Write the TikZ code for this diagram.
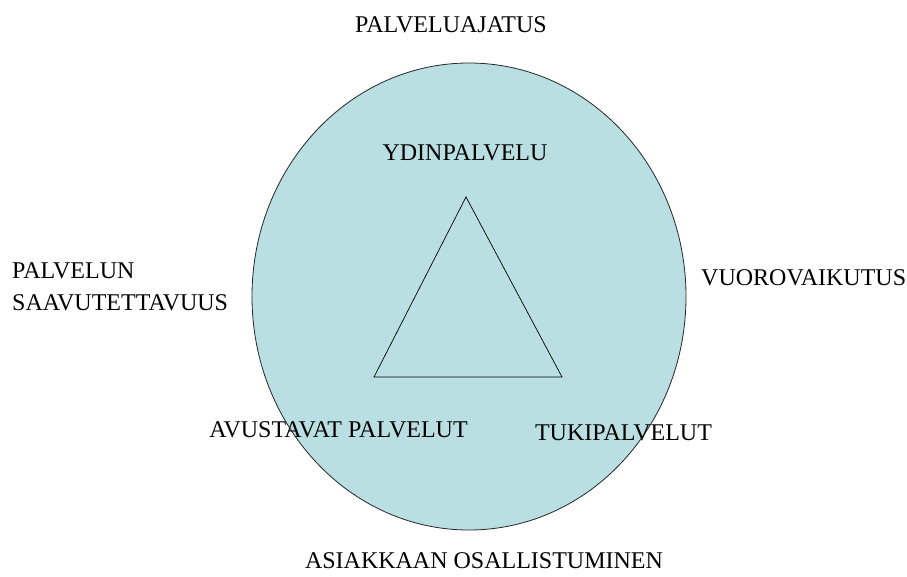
\documentclass[tikz,border=0pt]{standalone}
\usepackage{fontspec}
\setmainfont{Liberation Serif}
\usetikzlibrary{shapes.geometric, positioning}

\definecolor{servicefill}{RGB}{185,223,226}

\begin{document}
\begin{tikzpicture}[
	x=1pt, y=-1pt,
	circlebox/.style={
		ellipse,
		draw=black!85,
		fill=servicefill,
		line width=0.8pt,
		inner sep=0pt,
		minimum width=434pt,
		minimum height=467pt
	},
	tri/.style={draw=black, line width=0.7pt, line join=miter},
	lbl/.style={
		inner sep=0pt,
		anchor=base,
		font=\fontsize{24}{28}\selectfont
	}
]

	\useasboundingbox (0,0) rectangle (907,576);

	\node[circlebox] (circle) at (469,296.5) {};

	\coordinate (top) at (466,197);
	\coordinate (left) at (374,377);
	\coordinate (right) at (562,377);
	\draw[tri] (top) -- (left) -- (right) -- cycle;

	\node[lbl] (idea) at (451,32) {PALVELUAJATUS};
	\node[lbl] (core) at (465,160) {YDINPALVELU};
	\node[lbl, anchor=base west] (access) at (12,278) {PALVELUN};
	\node[lbl, anchor=base west] (access2) at (12,310) {SAAVUTETTAVUUS};
	\node[lbl, anchor=base west] (interact) at (701,285) {VUOROVAIKUTUS};
	\node[lbl] (assist) at (338.5,437) {AVUSTAVAT PALVELUT};
	\node[lbl] (support) at (623.5,440) {TUKIPALVELUT};
	\node[lbl] (customer) at (484,568) {ASIAKKAAN OSALLISTUMINEN};

\end{tikzpicture}
\end{document}
